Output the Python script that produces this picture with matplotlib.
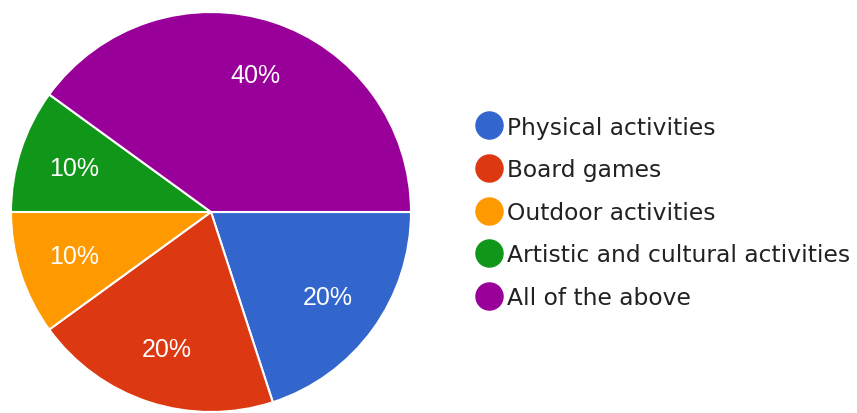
import matplotlib.pyplot as plt
from matplotlib.lines import Line2D

plt.rcParams['font.family'] = ['Liberation Sans', 'DejaVu Sans']

categories = ["Physical activities", "Board games", "Outdoor activities",
              "Artistic and cultural activities", "All of the above"]
shares = [20, 20, 10, 10, 40]
colors = ["#3366cc", "#dc3912", "#ff9900", "#109618", "#990099"]

fig = plt.figure(figsize=(8.57, 4.14), dpi=100)
ax = fig.add_axes([11 / 857, 1 / 414, 400 / 857, 400 / 414])

wedges, _, autotexts = ax.pie(
    shares, colors=colors, startangle=0, counterclock=False,
    autopct=lambda p: f"{p:.0f}%", pctdistance=0.72, radius=1.0,
    wedgeprops=dict(edgecolor="white", linewidth=1.5),
    textprops=dict(color="white", fontsize=18))
ax.set_xlim(-1, 1)
ax.set_ylim(-1, 1)
ax.set_aspect("equal")

# legend with round swatches, wide sans text
handles = [Line2D([], [], marker="o", linestyle="none", markersize=19.5,
                  markerfacecolor=c, markeredgecolor=c) for c in colors]
fig.legend(handles, categories, loc="center left", bbox_to_anchor=(466 / 857, 0.485),
           frameon=False, labelcolor="#222222",
           prop=dict(family="DejaVu Sans", size=16.8),
           handletextpad=0.2, handlelength=1.15, labelspacing=0.84,
           borderaxespad=0)

fig.savefig("out.png", dpi=100)
